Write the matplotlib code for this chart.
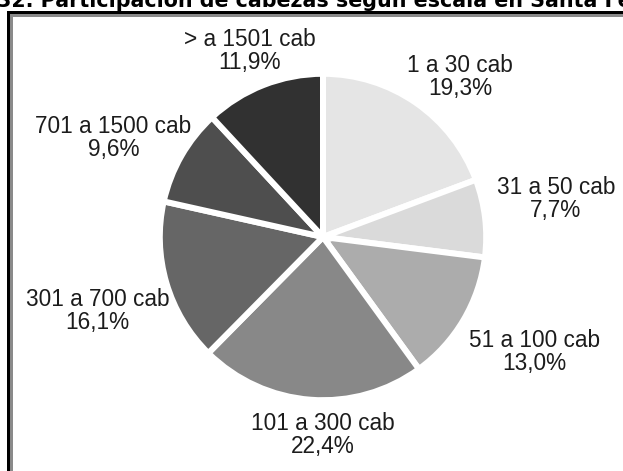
import matplotlib
matplotlib.use('Agg')
import matplotlib.pyplot as plt
from matplotlib.patches import Rectangle

# data
categories = ['1 a 30 cab', '31 a 50 cab', '51 a 100 cab', '101 a 300 cab',
              '301 a 700 cab', '701 a 1500 cab', '> a 1501 cab']
shares = [19.3, 7.7, 13.0, 22.4, 16.1, 9.6, 11.9]
share_labels = ['19,3%', '7,7%', '13,0%', '22,4%', '16,1%', '9,6%', '11,9%']
colours = ['#e5e5e5', '#dadada', '#acacac', '#888888', '#666666', '#4e4e4e', '#313131']

title = '32. Participación de cabezas según escala en Santa Fe'

W, H = 623, 471
fig = plt.figure(figsize=(W / 100, H / 100), dpi=100)

# frame (black outer, grey inner), runs off right and bottom edges
px = 72 / 100
fig.patches.append(Rectangle((7.5 / W, -0.1), 1.2, 1 - 11.5 / H + 0.1, transform=fig.transFigure,
                             fill=False, edgecolor='black', linewidth=3 * px))
fig.patches.append(Rectangle((10.5 / W, -0.1), 1.2, 1 - 14.5 / H + 0.1, transform=fig.transFigure,
                             fill=False, edgecolor='#8a8a8a', linewidth=3 * px))

# cut-off title at the very top
fig.text(-3 / W, 1 - 7 / H, title, fontsize=14.9, fontweight='bold',
         family='DejaVu Sans', va='baseline', ha='left', color='black')

# pie axes: centre (323, 237) px, radius 160 px
cx, cy, r = 323, 237, 160
ax = fig.add_axes([(cx - r) / W, (H - cy - r) / H, 2 * r / W, 2 * r / H])
wedges, texts = ax.pie(shares, colors=colours, startangle=90, counterclock=False,
                       radius=1.02, labels=[c + '\n' + s for c, s in zip(categories, share_labels)],
                       labeldistance=1.3,
                       wedgeprops=dict(edgecolor='white', linewidth=6 * px),
                       textprops=dict(fontsize=16.3, family='Liberation Sans', color='#1c1c1c',
                                      ha='center', va='center', linespacing=1.0))
ax.set_xlim(-1, 1)
ax.set_ylim(-1, 1)
ax.axis('off')

# label placement as in the original
label_xy = [(0.856, 1.0), (1.456, 0.24), (1.32, -0.72), (0.0, -1.24),
            (-1.41, -0.46), (-1.31, 0.62), (-0.46, 1.16)]
for t, (x, y) in zip(texts, label_xy):
    t.set_position((x, y))
    t.set_horizontalalignment('center')

fig.savefig('out.png', dpi=100)
